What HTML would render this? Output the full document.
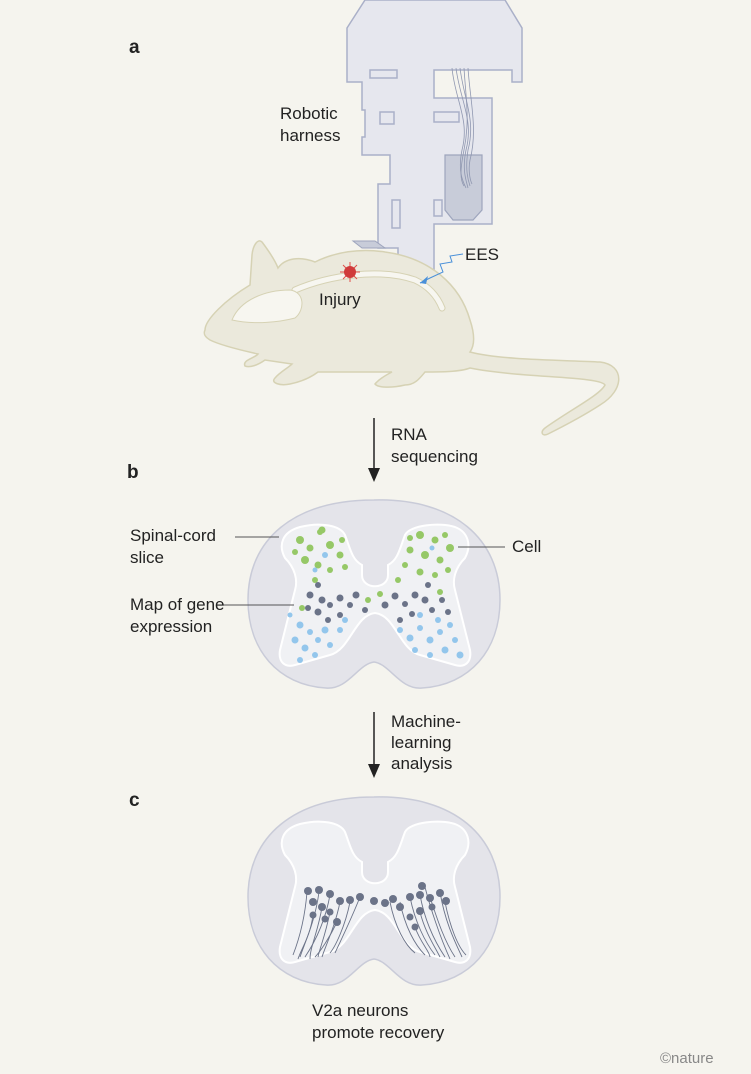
<!DOCTYPE html>
<html><head><meta charset="utf-8"><style>
html,body{margin:0;padding:0;background:#f5f4ee;}
svg{display:block}
text{font-family:"Liberation Sans",sans-serif;fill:#222;font-size:17px}
.lb{font-weight:bold;font-size:19px}
</style></head><body>
<svg width="751" height="1074" viewBox="0 0 751 1074" xmlns="http://www.w3.org/2000/svg">
<rect width="751" height="1074" fill="#f5f4ee"/>
<defs>
<path id="outer" d="M374,500 C455,498 500,540 500,600 C500,650 470,685 422,688 C400,690 390,664 374,662 C358,664 348,690 326,688 C278,685 248,650 248,600 C248,540 293,500 374,500Z"/>
<path id="gm" d="M300,527 C320,522 340,525 345,535 C350,548 352,560 362,565 L362,575 C362,590 388,590 388,575 L388,565 C398,560 400,548 405,535 C410,525 440,522 455,527 C468,532 472,545 465,558 C455,568 452,580 455,590 L470,650 C472,662 465,668 455,665 L420,655 C400,650 395,615 375,613 C355,615 350,650 330,655 L295,665 C285,668 278,662 280,650 L295,590 C298,580 295,568 285,558 C278,545 282,532 300,527Z"/>
</defs>

<text x="129" y="53" class="lb">a</text>
<text x="127" y="478" class="lb">b</text>
<text x="129" y="806" class="lb">c</text>

<!-- harness -->
<g fill="#e6e7ee" stroke="#aab0c8" stroke-width="1.5">
<path d="M347,28 L365,0 L505,0 L522,28 L522,82 L512,82 L512,70 L434,70 L434,98 L492,98 L492,224 L434,224 L434,270 L398,270 L398,248 L378,248 L378,184 L390,184 L390,155 L362,155 L362,137 L365,137 L365,110 L362,110 L362,82 L347,82Z"/>
<rect x="370" y="70" width="27" height="8"/>
<rect x="380" y="112" width="14" height="12"/>
<rect x="434" y="112" width="25" height="10"/>
<rect x="392" y="200" width="8" height="28"/>
<rect x="434" y="200" width="8" height="16"/>
</g>
<path d="M445,155 L482,155 L482,210 L473,220 L453,220 L445,210Z" fill="#c8ccd9" stroke="#9ea5bd" stroke-width="1.2"/>
<g stroke="#8f97b0" stroke-width="0.8" fill="none">
<path d="M452,68 C455,100 470,120 462,150 C458,170 462,180 466,188"/>
<path d="M456,68 C460,100 474,120 466,150 C462,170 466,180 468,188"/>
<path d="M460,68 C464,100 476,120 468,150 C465,170 468,180 470,186"/>
<path d="M464,68 C466,100 470,120 464,150 C460,170 460,180 464,186"/>
<path d="M468,68 C470,100 478,130 470,160 C468,170 470,180 472,184"/>
</g>
<path d="M353,241 L375,241 L385,248 L362,248Z" fill="#c8ccd9" stroke="#9ea5bd"/>

<!-- mouse -->
<path d="M205,330 C205,320 225,300 250,285 L252,255 C253,245 258,238 262,242 C268,250 275,260 278,268 C285,258 300,256 315,262 C335,252 360,248 385,252 C430,258 460,285 470,320 C475,335 475,345 470,352 C500,360 560,360 600,362 C625,365 625,390 600,405 C580,418 560,428 548,434 C542,437 540,432 545,428 C570,410 600,395 605,385 C600,376 520,378 470,368 C460,372 440,372 425,372 C420,378 415,385 405,385 C392,388 378,388 375,384 C380,378 388,374 392,372 C365,372 335,372 318,372 C310,378 300,382 290,384 C280,386 270,383 275,378 C280,372 288,368 292,364 L265,360 C258,365 250,368 245,366 C242,360 255,358 258,354 C240,350 220,345 210,340 C205,337 203,334 205,330Z" fill="#ebe9dc" stroke="#d6d2b4" stroke-width="1.5"/>
<path d="M295,290 C330,275 380,268 415,280 C430,287 438,298 442,308" fill="none" stroke="#d6d2b4" stroke-width="7" stroke-linecap="round"/>
<path d="M295,290 C330,275 380,268 415,280 C430,287 438,298 442,308" fill="none" stroke="#f7f6f0" stroke-width="5" stroke-linecap="round"/>
<path d="M232,320 C240,300 265,290 290,290 C305,292 305,310 295,318 C280,322 255,325 232,320Z" fill="#f7f6f0" stroke="#d6d2b4"/>
<g stroke="#e0504a" stroke-width="1"><path d="M350,262 L350,282 M340,272 L360,272 M343,265 L357,279 M357,265 L343,279"/></g>
<circle cx="350" cy="272" r="6" fill="#d03b3b"/>
<path d="M463,254 L450,256 L452,262 L440,264 L443,272 L430,278 L420,283" fill="none" stroke="#4a90d9" stroke-width="1"/>
<path d="M420,283 L428,276 L426,284Z" fill="#4a90d9"/>
<text x="280" y="119">Robotic</text>
<text x="280" y="141">harness</text>
<text x="465" y="260">EES</text>
<text x="319" y="305">Injury</text>

<!-- arrow 1 -->
<line x1="374" y1="418" x2="374" y2="470" stroke="#222" stroke-width="1.5"/>
<path d="M368,468 L380,468 L374,482Z" fill="#222"/>
<text x="391" y="440">RNA</text>
<text x="391" y="462">sequencing</text>

<!-- cord b -->
<use href="#outer" fill="#e4e4ea" stroke="#c9cbd8" stroke-width="1.5"/>
<use href="#gm" fill="#f0f1f4" stroke="#fff" stroke-width="2"/>
<g fill="#96c867">
<circle cx="300" cy="540" r="4"/><circle cx="310" cy="548" r="3.5"/><circle cx="320" cy="532" r="3"/><circle cx="330" cy="545" r="4"/><circle cx="340" cy="555" r="3.5"/><circle cx="295" cy="552" r="3"/><circle cx="305" cy="560" r="4"/><circle cx="318" cy="565" r="3.5"/><circle cx="330" cy="570" r="3"/><circle cx="345" cy="567" r="3"/><circle cx="315" cy="580" r="3"/><circle cx="302" cy="608" r="3"/><circle cx="322" cy="530" r="3.5"/><circle cx="342" cy="540" r="3"/>
<circle cx="420" cy="535" r="4"/><circle cx="435" cy="540" r="3.5"/><circle cx="450" cy="548" r="4"/><circle cx="445" cy="535" r="3"/><circle cx="410" cy="550" r="3.5"/><circle cx="425" cy="555" r="4"/><circle cx="440" cy="560" r="3.5"/><circle cx="405" cy="565" r="3"/><circle cx="420" cy="572" r="3.5"/><circle cx="435" cy="575" r="3"/><circle cx="448" cy="570" r="3"/><circle cx="398" cy="580" r="3"/><circle cx="440" cy="592" r="3"/><circle cx="410" cy="538" r="3"/><circle cx="380" cy="594" r="3"/><circle cx="368" cy="600" r="3"/>
</g>
<g fill="#6b7388">
<circle cx="310" cy="595" r="3.5"/><circle cx="322" cy="600" r="3.5"/><circle cx="308" cy="608" r="3"/><circle cx="318" cy="612" r="3.5"/><circle cx="330" cy="605" r="3"/><circle cx="340" cy="598" r="3.5"/><circle cx="350" cy="605" r="3"/><circle cx="356" cy="595" r="3.5"/><circle cx="340" cy="615" r="3"/><circle cx="328" cy="620" r="3"/><circle cx="318" cy="585" r="3"/><circle cx="365" cy="610" r="3"/>
<circle cx="385" cy="605" r="3.5"/><circle cx="395" cy="596" r="3.5"/><circle cx="405" cy="604" r="3"/><circle cx="415" cy="595" r="3.5"/><circle cx="425" cy="600" r="3.5"/><circle cx="432" cy="610" r="3"/><circle cx="442" cy="600" r="3"/><circle cx="412" cy="614" r="3"/><circle cx="400" cy="620" r="3"/><circle cx="428" cy="585" r="3"/><circle cx="448" cy="612" r="3"/>
</g>
<g fill="#93c6ec">
<circle cx="300" cy="625" r="3.5"/><circle cx="310" cy="632" r="3"/><circle cx="295" cy="640" r="3.5"/><circle cx="305" cy="648" r="3.5"/><circle cx="318" cy="640" r="3"/><circle cx="325" cy="630" r="3.5"/><circle cx="330" cy="645" r="3"/><circle cx="315" cy="655" r="3"/><circle cx="300" cy="660" r="3"/><circle cx="340" cy="630" r="3"/><circle cx="345" cy="620" r="3"/><circle cx="325" cy="555" r="3"/><circle cx="315" cy="570" r="2.5"/><circle cx="290" cy="615" r="2.5"/>
<circle cx="400" cy="630" r="3"/><circle cx="410" cy="638" r="3.5"/><circle cx="420" cy="628" r="3"/><circle cx="430" cy="640" r="3.5"/><circle cx="440" cy="632" r="3"/><circle cx="450" cy="625" r="3"/><circle cx="455" cy="640" r="3"/><circle cx="445" cy="650" r="3.5"/><circle cx="430" cy="655" r="3"/><circle cx="415" cy="650" r="3"/><circle cx="460" cy="655" r="3.5"/><circle cx="438" cy="620" r="3"/><circle cx="420" cy="615" r="3"/><circle cx="432" cy="548" r="2.5"/>
</g>
<line x1="235" y1="537" x2="279" y2="537" stroke="#555" stroke-width="1"/>
<line x1="222" y1="605" x2="294" y2="605" stroke="#555" stroke-width="1"/>
<line x1="458" y1="547" x2="505" y2="547" stroke="#555" stroke-width="1"/>
<text x="130" y="541">Spinal-cord</text>
<text x="130" y="563">slice</text>
<text x="130" y="610">Map of gene</text>
<text x="130" y="632">expression</text>
<text x="512" y="552">Cell</text>

<!-- arrow 2 -->
<line x1="374" y1="712" x2="374" y2="766" stroke="#222" stroke-width="1.5"/>
<path d="M368,764 L380,764 L374,778Z" fill="#222"/>
<text x="391" y="727">Machine-</text>
<text x="391" y="748">learning</text>
<text x="391" y="769">analysis</text>

<!-- cord c -->
<g transform="translate(0,297)">
<use href="#outer" fill="#e4e4ea" stroke="#c9cbd8" stroke-width="1.5"/>
<use href="#gm" fill="#f0f1f4" stroke="#fff" stroke-width="2"/>
<g stroke="#6b7388" stroke-width="0.9" fill="none">
<path d="M307,595 C305,620 300,640 293,658"/><path d="M319,595 C315,625 305,645 300,660"/><path d="M330,598 C325,625 315,645 305,660"/><path d="M322,610 C318,635 310,650 310,662"/><path d="M330,615 C325,640 320,650 318,660"/><path d="M340,605 C335,630 325,650 322,660"/><path d="M350,605 C345,630 335,650 330,656"/><path d="M360,600 C350,625 340,645 335,656"/><path d="M337,625 C330,640 320,655 315,660"/><path d="M313,618 C310,640 302,650 298,662"/>
<path d="M420,598 C425,625 435,645 445,660"/><path d="M430,600 C438,625 445,645 455,660"/><path d="M440,595 C445,625 455,645 462,660"/><path d="M445,605 C450,630 458,650 466,658"/><path d="M410,600 C415,625 425,645 435,658"/><path d="M400,605 C405,630 415,648 425,658"/><path d="M390,605 C395,630 405,648 415,656"/><path d="M420,615 C425,635 435,650 440,660"/><path d="M415,630 C420,645 430,655 430,660"/><path d="M425,590 C430,610 440,640 450,662"/>
</g>
<g fill="#6b7388">
<circle cx="308" cy="594" r="4"/><circle cx="319" cy="593" r="4"/><circle cx="330" cy="597" r="4"/><circle cx="313" cy="605" r="4"/><circle cx="322" cy="610" r="4"/><circle cx="330" cy="615" r="3.5"/><circle cx="340" cy="604" r="4"/><circle cx="350" cy="603" r="4"/><circle cx="360" cy="600" r="4"/><circle cx="337" cy="625" r="4"/><circle cx="313" cy="618" r="3.5"/><circle cx="325" cy="622" r="3.5"/>
<circle cx="374" cy="604" r="4"/><circle cx="385" cy="606" r="4"/><circle cx="393" cy="602" r="4"/><circle cx="400" cy="610" r="4"/><circle cx="410" cy="600" r="4"/><circle cx="420" cy="598" r="4"/><circle cx="430" cy="601" r="4"/><circle cx="422" cy="589" r="4"/><circle cx="440" cy="596" r="4"/><circle cx="446" cy="604" r="4"/><circle cx="420" cy="614" r="4"/><circle cx="410" cy="620" r="3.5"/><circle cx="415" cy="630" r="3.5"/><circle cx="432" cy="610" r="3.5"/>
</g>
</g>
<text x="312" y="1016">V2a neurons</text>
<text x="312" y="1038">promote recovery</text>
<text x="660" y="1063" style="font-size:15px;fill:#888">©nature</text>
</svg>
</body></html>
